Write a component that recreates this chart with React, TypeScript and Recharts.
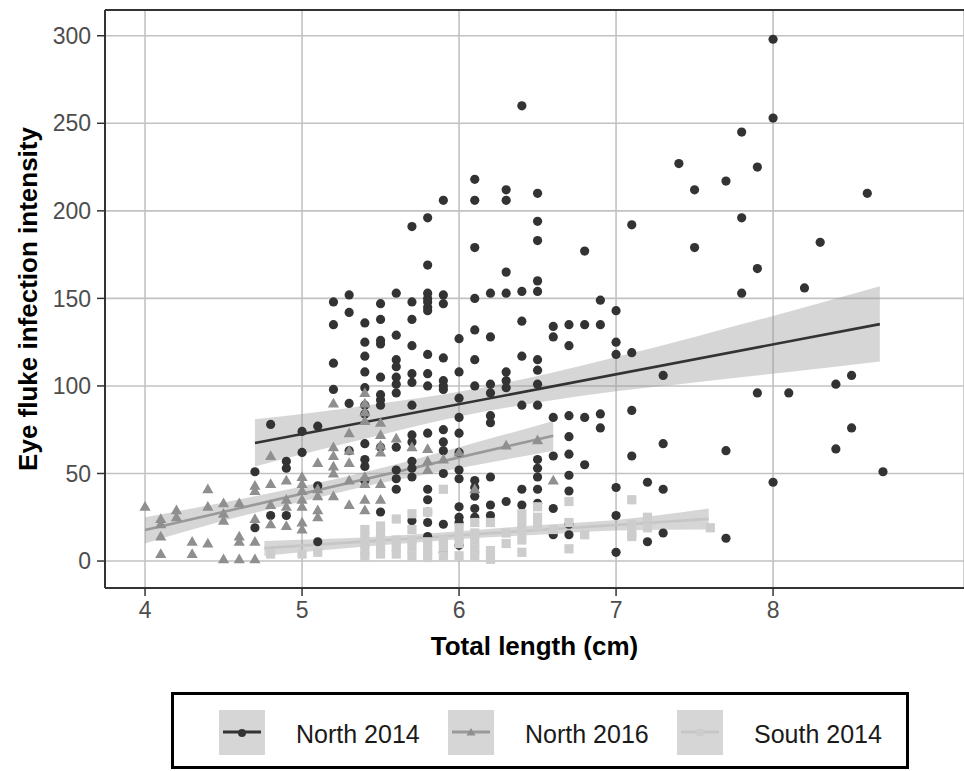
import {
  ComposedChart,
  Scatter,
  Line,
  Area,
  XAxis,
  YAxis,
  CartesianGrid,
  ReferenceLine,
  Legend,
} from 'recharts';

const FONT = "'Liberation Sans', Arial, Helvetica, sans-serif";

const X_TICKS = [4, 5, 6, 7, 8];
const Y_TICKS = [0, 50, 100, 150, 200, 250, 300];
const X_DOMAIN: [number, number] = [3.745, 9.216];
const Y_DOMAIN: [number, number] = [-15.4, 314.7];

const SERIES_NAMES = ['North 2014', 'North 2016', 'South 2014'];

// [total length (cm), intensities measured at that length]
const north2014Cols: [number, number[]][] = [
  [4.7, [51, 19]],
  [4.8, [78, 26]],
  [4.9, [57, 53, 26]],
  [5.0, [74, 62]],
  [5.1, [77, 43, 11]],
  [5.2, [148, 135, 113, 98]],
  [5.3, [152, 142, 90, 63]],
  [5.4, [136, 125, 117, 108, 99, 89, 84, 67, 58, 54, 46]],
  [5.5, [147, 138, 126, 124, 105, 95, 92, 89, 65, 28]],
  [5.6, [153, 129, 115, 111, 105, 101, 96, 65, 52, 47, 41]],
  [5.7, [191, 148, 138, 123, 107, 102, 89, 72, 68, 57, 53, 48, 23]],
  [5.8, [196, 169, 153, 150, 148, 145, 143, 118, 107, 100, 73, 41, 35, 28, 22, 14]],
  [5.9, [206, 152, 147, 116, 103, 100, 98, 75, 68, 63, 50, 21, 5]],
  [6.0, [127, 108, 93, 82, 73, 62, 52, 47, 31, 25, 22, 9]],
  [6.1, [218, 206, 179, 150, 132, 115, 100, 46, 42, 37, 30, 25]],
  [6.2, [153, 128, 101, 96, 83, 79, 48, 32, 26]],
  [6.3, [212, 206, 165, 153, 108, 103, 99, 34]],
  [6.4, [260, 154, 137, 117, 89, 41, 32]],
  [6.5, [210, 194, 183, 160, 154, 115, 109, 101, 89, 58, 53, 48, 41, 33]],
  [6.6, [134, 128, 82, 60, 30, 15]],
  [6.7, [135, 123, 83, 71, 61, 49, 40, 21, 15]],
  [6.8, [177, 135, 82, 55]],
  [6.9, [149, 135, 84, 76]],
  [7.0, [143, 125, 118, 42, 26, 5]],
  [7.1, [192, 119, 86, 60]],
  [7.2, [45, 11]],
  [7.3, [106, 67, 41, 16]],
  [7.4, [227]],
  [7.5, [212, 179]],
  [7.7, [217, 63, 13]],
  [7.8, [245, 196, 153]],
  [7.9, [225, 167, 96]],
  [8.0, [298, 253, 45]],
  [8.1, [96]],
  [8.2, [156]],
  [8.3, [182]],
  [8.4, [101, 64]],
  [8.5, [106, 76]],
  [8.6, [210]],
  [8.7, [51]],
];

const north2016Cols: [number, number[]][] = [
  [4.0, [31]],
  [4.1, [24, 21, 14, 4]],
  [4.2, [29, 25]],
  [4.3, [11, 4]],
  [4.4, [41, 31, 10]],
  [4.5, [33, 27, 23, 1]],
  [4.6, [33, 14, 11, 1]],
  [4.7, [43, 40, 24, 11, 1]],
  [4.8, [60, 44, 32, 21]],
  [4.9, [46, 35, 31, 20]],
  [5.0, [48, 44, 40, 35, 31, 22, 18]],
  [5.1, [56, 41, 37, 29, 25]],
  [5.2, [90, 65, 60, 54, 50, 37]],
  [5.3, [73, 63, 56, 46, 32]],
  [5.4, [96, 90, 85, 80, 48, 44, 35, 29]],
  [5.5, [79, 72, 66, 62, 44, 35]],
  [5.6, [70]],
  [5.7, [65]],
  [5.8, [64, 57, 52]],
  [5.9, [58]],
  [6.0, [62]],
  [6.1, [41]],
  [6.3, [66]],
  [6.5, [69]],
  [6.6, [46]],
];

const south2014Cols: [number, number[]][] = [
  [4.8, [4]],
  [5.0, [4]],
  [5.1, [5]],
  [5.4, [18, 14, 10, 6, 3]],
  [5.5, [20, 16, 12, 8, 4]],
  [5.6, [24, 12, 8, 4]],
  [5.7, [27, 18, 12, 8, 3]],
  [5.8, [28, 11, 6, 2]],
  [5.9, [41, 12, 8, 3]],
  [6.0, [19, 14, 10, 3]],
  [6.1, [22, 16, 12, 7, 3]],
  [6.2, [22, 6, 1]],
  [6.3, [16, 10]],
  [6.4, [27, 22, 17, 12, 5]],
  [6.5, [31, 25, 20]],
  [6.6, [18]],
  [6.7, [34, 22, 7]],
  [6.8, [15]],
  [7.1, [35, 21, 16, 14]],
  [7.2, [25, 19]],
  [7.6, [19]],
];

// linear fits: [length, fitted intensity] at both ends
const north2014Fit: [number, number][] = [[4.7, 67.4], [8.68, 135.3]];
const north2016Fit: [number, number][] = [[4.0, 17.7], [6.6, 71.6]];
const south2014Fit: [number, number][] = [[4.76, 7.4], [7.59, 24.1]];

// confidence bands: [length, lower, upper]
const north2014Band: [number, number, number][] = [
  [4.7, 54, 81], [5.0, 61, 84], [5.5, 72, 90], [6.0, 82.5, 96.7], [6.5, 90.5, 105.7],
  [7.0, 97, 116.5], [7.5, 102, 128], [8.0, 107, 140], [8.68, 114, 157],
];
const north2016Band: [number, number, number][] = [
  [4.0, 10, 25], [4.5, 23, 33.5], [5.0, 34, 42.5], [5.5, 44.5, 53], [6.0, 53, 65], [6.6, 63, 80],
];
const south2014Band: [number, number, number][] = [
  [4.76, 3, 11.5], [5.5, 9, 14], [6.0, 12.5, 17], [6.5, 15, 20.5], [7.0, 17.5, 23.5], [7.59, 18, 30],
];

const toPoints = (cols: [number, number[]][]) =>
  cols.flatMap(([len, vals]) => vals.map((val) => ({ len, val })));
const toFit = (rows: [number, number][]) => rows.map(([len, fit]) => ({ len, fit }));
const toBand = (rows: [number, number, number][]) =>
  rows.map(([len, lo, hi]) => ({ len, band: [lo, hi] }));

const COLORS = {
  n14: '#333333',
  n16Point: '#8f8f8f',
  n16Line: '#999999',
  s14Point: '#cdcdcd',
  s14Line: '#c6c6c6',
  ribbon: '#999999',
};

const CircleDot = (p: any) => <circle cx={p.cx} cy={p.cy} r={4.6} fill={COLORS.n14} />;
const TriangleDot = (p: any) => (
  <polygon
    points={`${p.cx},${p.cy - 5.8} ${p.cx - 5.6},${p.cy + 4} ${p.cx + 5.6},${p.cy + 4}`}
    fill={COLORS.n16Point}
  />
);
const SquareDot = (p: any) => (
  <rect x={p.cx - 4.6} y={p.cy - 4.6} width={9.2} height={9.2} fill={COLORS.s14Point} />
);

function XTitle(props: any) {
  const vb = props.viewBox || { x: 105, y: 588, width: 859 };
  return (
    <text
      x={vb.x + vb.width / 2}
      y={vb.y + 67}
      textAnchor="middle"
      fontFamily={FONT}
      fontWeight="bold"
      fontSize={26}
      fill="#000"
    >
      Total length (cm)
    </text>
  );
}

function YTitle(props: any) {
  const vb = props.viewBox || { x: 0, y: 10, height: 578 };
  const cx = 37;
  const cy = vb.y + vb.height / 2;
  return (
    <text
      x={cx}
      y={cy}
      transform={`rotate(-90 ${cx} ${cy})`}
      textAnchor="middle"
      fontFamily={FONT}
      fontWeight="bold"
      fontSize={26}
      fill="#000"
    >
      Eye fluke infection intensity
    </text>
  );
}

function KeyGlyph({ idx }: { idx: number }) {
  const line = [COLORS.n14, COLORS.n16Line, COLORS.s14Line][idx];
  return (
    <svg width={46} height={45} style={{ display: 'block' }}>
      <rect x={0} y={0} width={46} height={45} fill="#d6d6d6" />
      <line x1={4} x2={42} y1={22} y2={22} stroke={line} strokeWidth={3} />
      {idx === 0 && <circle cx={23} cy={23} r={4} fill={COLORS.n14} />}
      {idx === 1 && <polygon points="23,18 18.5,25.5 27.5,25.5" fill={COLORS.n16Point} />}
      {idx === 2 && <rect x={19.5} y={19} width={7} height={7} fill={COLORS.s14Point} />}
    </svg>
  );
}

function LegendBox() {
  const keyLeft = [45, 274, 503];
  return (
    <div
      style={{
        position: 'absolute',
        left: 171,
        top: 1,
        width: 738,
        height: 77,
        border: '3px solid #000',
        boxSizing: 'border-box',
        background: '#fff',
      }}
    >
      {SERIES_NAMES.map((name, i) => (
        <div key={name}>
          <div style={{ position: 'absolute', left: keyLeft[i], top: 15 }}>
            <KeyGlyph idx={i} />
          </div>
          <div
            style={{
              position: 'absolute',
              left: keyLeft[i] + 77,
              top: 17,
              height: 45,
              lineHeight: '45px',
              fontFamily: FONT,
              fontSize: 25,
              color: '#1a1a1a',
              whiteSpace: 'nowrap',
            }}
          >
            {name}
          </div>
        </div>
      ))}
    </div>
  );
}

export default function App() {
  const tickStyle = { fill: '#4d4d4d', fontSize: 23, fontFamily: FONT };
  return (
    <div style={{ position: 'absolute', left: 0, top: 0, background: '#fff' }}>
      <ComposedChart width={964} height={771} margin={{ top: 10, right: 0, bottom: 0, left: 0 }}>
        <CartesianGrid stroke="#c2c2c2" strokeWidth={1.6} />
        <XAxis
          type="number"
          dataKey="len"
          domain={X_DOMAIN}
          ticks={X_TICKS}
          interval={0}
          allowDataOverflow
          height={103}
          tickSize={8}
          tickMargin={6}
          tick={tickStyle}
          axisLine={{ stroke: '#333', strokeWidth: 2 }}
          tickLine={{ stroke: '#333', strokeWidth: 1.5 }}
          label={XTitle}
        />
        <YAxis
          type="number"
          domain={Y_DOMAIN}
          ticks={Y_TICKS}
          interval={0}
          allowDataOverflow
          width={105}
          tickSize={8}
          tickMargin={6}
          tick={tickStyle}
          axisLine={{ stroke: '#333', strokeWidth: 2 }}
          tickLine={{ stroke: '#333', strokeWidth: 1.5 }}
          label={YTitle}
        />
        <ReferenceLine y={Y_DOMAIN[1]} stroke="#333" strokeWidth={2} ifOverflow="extendDomain" />

        <Scatter name="North 2014" data={toPoints(north2014Cols)} dataKey="val" shape={CircleDot} isAnimationActive={false} />
        <Scatter name="North 2016" data={toPoints(north2016Cols)} dataKey="val" shape={TriangleDot} isAnimationActive={false} />
        <Scatter name="South 2014" data={toPoints(south2014Cols)} dataKey="val" shape={SquareDot} isAnimationActive={false} />

        <Area data={toBand(north2014Band)} dataKey="band" type="monotone" stroke="none" fill={COLORS.ribbon} fillOpacity={0.4} isAnimationActive={false} legendType="none" />
        <Line data={toFit(north2014Fit)} dataKey="fit" type="linear" stroke={COLORS.n14} strokeWidth={2.6} dot={false} activeDot={false} isAnimationActive={false} legendType="none" />
        <Area data={toBand(north2016Band)} dataKey="band" type="monotone" stroke="none" fill={COLORS.ribbon} fillOpacity={0.4} isAnimationActive={false} legendType="none" />
        <Line data={toFit(north2016Fit)} dataKey="fit" type="linear" stroke={COLORS.n16Line} strokeWidth={2.6} dot={false} activeDot={false} isAnimationActive={false} legendType="none" />
        <Area data={toBand(south2014Band)} dataKey="band" type="monotone" stroke="none" fill={COLORS.ribbon} fillOpacity={0.4} isAnimationActive={false} legendType="none" />
        <Line data={toFit(south2014Fit)} dataKey="fit" type="linear" stroke={COLORS.s14Line} strokeWidth={2.6} dot={false} activeDot={false} isAnimationActive={false} legendType="none" />

        <Legend verticalAlign="bottom" height={80} content={() => <LegendBox />} />
      </ComposedChart>
    </div>
  );
}
